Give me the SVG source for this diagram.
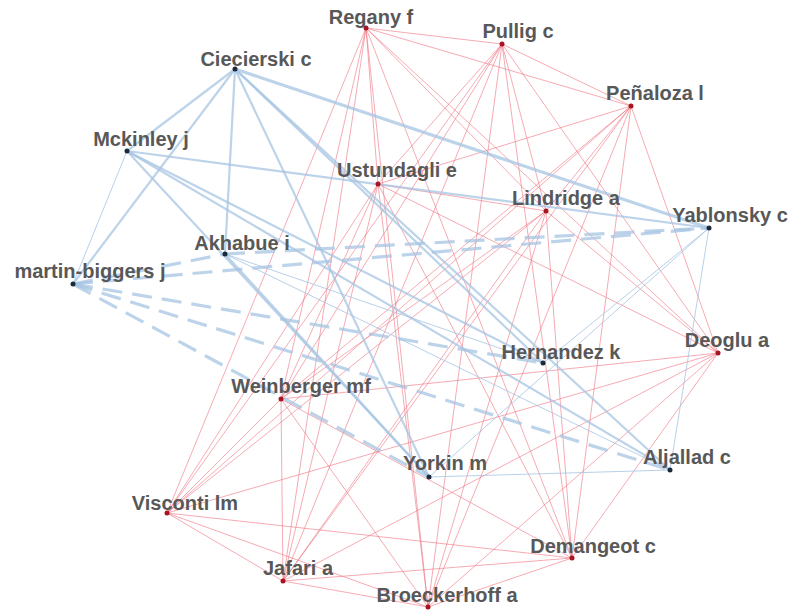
<svg xmlns="http://www.w3.org/2000/svg" width="790" height="610" viewBox="0 0 790 610">
<style>
.r{stroke:#ee7380;stroke-opacity:0.6;stroke-width:1;fill:none}
.bt{stroke:#a6c4e2;stroke-opacity:0.75;stroke-width:3.2;fill:none}
.bm{stroke:#a6c4e2;stroke-opacity:0.75;stroke-width:2.2;fill:none}
.bs{stroke:#a6c4e2;stroke-opacity:0.8;stroke-width:1;fill:none}
.bd{stroke:#a6c4e2;stroke-opacity:0.75;stroke-width:3.2;stroke-dasharray:20 10;fill:none}
.nb{fill:#1c2b3c}
.nr{fill:#a8141f}
text{font-family:"Liberation Sans",Arial,sans-serif;font-weight:bold;font-size:20px;fill:#585858;text-anchor:middle}
</style>
<rect width="790" height="610" fill="#ffffff"/>
<g id="connectors">
<line class="r" x1="366" y1="28" x2="502" y2="44"/>
<line class="r" x1="366" y1="28" x2="631" y2="106"/>
<line class="r" x1="366" y1="28" x2="378" y2="184"/>
<line class="r" x1="366" y1="28" x2="546" y2="211"/>
<line class="r" x1="366" y1="28" x2="718" y2="353"/>
<line class="r" x1="366" y1="28" x2="281" y2="399"/>
<line class="r" x1="366" y1="28" x2="167" y2="513"/>
<line class="r" x1="366" y1="28" x2="572" y2="558"/>
<line class="r" x1="366" y1="28" x2="283" y2="581"/>
<line class="r" x1="366" y1="28" x2="428" y2="607"/>
<line class="r" x1="502" y1="44" x2="631" y2="106"/>
<line class="r" x1="502" y1="44" x2="378" y2="184"/>
<line class="r" x1="502" y1="44" x2="546" y2="211"/>
<line class="r" x1="502" y1="44" x2="718" y2="353"/>
<line class="r" x1="502" y1="44" x2="281" y2="399"/>
<line class="r" x1="502" y1="44" x2="167" y2="513"/>
<line class="r" x1="502" y1="44" x2="572" y2="558"/>
<line class="r" x1="502" y1="44" x2="283" y2="581"/>
<line class="r" x1="502" y1="44" x2="428" y2="607"/>
<line class="r" x1="631" y1="106" x2="378" y2="184"/>
<line class="r" x1="631" y1="106" x2="546" y2="211"/>
<line class="r" x1="631" y1="106" x2="718" y2="353"/>
<line class="r" x1="631" y1="106" x2="281" y2="399"/>
<line class="r" x1="631" y1="106" x2="167" y2="513"/>
<line class="r" x1="631" y1="106" x2="572" y2="558"/>
<line class="r" x1="631" y1="106" x2="283" y2="581"/>
<line class="r" x1="631" y1="106" x2="428" y2="607"/>
<line class="r" x1="378" y1="184" x2="546" y2="211"/>
<line class="r" x1="378" y1="184" x2="718" y2="353"/>
<line class="r" x1="378" y1="184" x2="281" y2="399"/>
<line class="r" x1="378" y1="184" x2="167" y2="513"/>
<line class="r" x1="378" y1="184" x2="572" y2="558"/>
<line class="r" x1="378" y1="184" x2="283" y2="581"/>
<line class="r" x1="378" y1="184" x2="428" y2="607"/>
<line class="r" x1="546" y1="211" x2="718" y2="353"/>
<line class="r" x1="546" y1="211" x2="281" y2="399"/>
<line class="r" x1="546" y1="211" x2="167" y2="513"/>
<line class="r" x1="546" y1="211" x2="572" y2="558"/>
<line class="r" x1="546" y1="211" x2="283" y2="581"/>
<line class="r" x1="546" y1="211" x2="428" y2="607"/>
<line class="r" x1="718" y1="353" x2="281" y2="399"/>
<line class="r" x1="718" y1="353" x2="167" y2="513"/>
<line class="r" x1="718" y1="353" x2="572" y2="558"/>
<line class="r" x1="718" y1="353" x2="283" y2="581"/>
<line class="r" x1="718" y1="353" x2="428" y2="607"/>
<line class="r" x1="281" y1="399" x2="167" y2="513"/>
<line class="r" x1="281" y1="399" x2="572" y2="558"/>
<line class="r" x1="281" y1="399" x2="283" y2="581"/>
<line class="r" x1="281" y1="399" x2="428" y2="607"/>
<line class="r" x1="167" y1="513" x2="572" y2="558"/>
<line class="r" x1="167" y1="513" x2="283" y2="581"/>
<line class="r" x1="167" y1="513" x2="428" y2="607"/>
<line class="r" x1="572" y1="558" x2="283" y2="581"/>
<line class="r" x1="572" y1="558" x2="428" y2="607"/>
<line class="r" x1="283" y1="581" x2="428" y2="607"/>
<line class="bm" x1="235" y1="69" x2="127" y2="151"/>
<line class="bm" x1="235" y1="69" x2="73" y2="284"/>
<line class="bm" x1="235" y1="69" x2="225" y2="254"/>
<line class="bt" x1="235" y1="69" x2="709" y2="228"/>
<line class="bm" x1="235" y1="69" x2="429" y2="477"/>
<line class="bm" x1="235" y1="69" x2="543" y2="363"/>
<line class="bm" x1="235" y1="69" x2="670" y2="470"/>
<line class="bs" x1="127" y1="151" x2="73" y2="284"/>
<line class="bm" x1="127" y1="151" x2="709" y2="228"/>
<line class="bm" x1="127" y1="151" x2="429" y2="477"/>
<line class="bm" x1="127" y1="151" x2="543" y2="363"/>
<line class="bm" x1="127" y1="151" x2="670" y2="470"/>
<line class="bs" x1="225" y1="254" x2="543" y2="363"/>
<line class="bs" x1="225" y1="254" x2="670" y2="470"/>
<line class="bm" x1="225" y1="254" x2="429" y2="477"/>
<line class="bd" x1="225" y1="254" x2="709" y2="228"/>
<line class="bd" x1="73" y1="284" x2="225" y2="254"/>
<line class="bd" x1="73" y1="284" x2="709" y2="228"/>
<line class="bd" x1="73" y1="284" x2="543" y2="363"/>
<line class="bd" x1="73" y1="284" x2="670" y2="470"/>
<line class="bd" x1="73" y1="284" x2="429" y2="477"/>
<line class="bs" x1="543" y1="363" x2="709" y2="228"/>
<line class="bs" x1="429" y1="477" x2="709" y2="228"/>
<line class="bs" x1="429" y1="477" x2="670" y2="470"/>
<line class="bs" x1="670" y1="470" x2="709" y2="228"/>
</g>
<g id="n-regany"><circle class="nr" cx="366" cy="28" r="2.5"/><text x="371" y="24">Regany f</text></g>
<g id="n-pullig"><circle class="nr" cx="502" cy="44" r="2.5"/><text x="518" y="38">Pullig c</text></g>
<g id="n-penaloza"><circle class="nr" cx="631" cy="106" r="2.5"/><text x="655" y="100">Peñaloza l</text></g>
<g id="n-ciecierski"><circle class="nb" cx="235" cy="69" r="2.5"/><text x="256" y="66">Ciecierski c</text></g>
<g id="n-mckinley"><circle class="nb" cx="127" cy="151" r="2.5"/><text x="141" y="146">Mckinley j</text></g>
<g id="n-ustundagli"><circle class="nr" cx="378" cy="184" r="2.5"/><text x="397" y="177">Ustundagli e</text></g>
<g id="n-lindridge"><circle class="nr" cx="546" cy="211" r="2.5"/><text x="566" y="205">Lindridge a</text></g>
<g id="n-yablonsky"><circle class="nb" cx="709" cy="228" r="2.5"/><text x="730" y="222">Yablonsky c</text></g>
<g id="n-akhabue"><circle class="nb" cx="225" cy="254" r="2.5"/><text x="242" y="250">Akhabue i</text></g>
<g id="n-martin-biggers"><circle class="nb" cx="73" cy="284" r="2.5"/><text x="90" y="278">martin-biggers j</text></g>
<g id="n-hernandez"><circle class="nb" cx="543" cy="363" r="2.5"/><text x="561" y="359">Hernandez k</text></g>
<g id="n-deoglu"><circle class="nr" cx="718" cy="353" r="2.5"/><text x="727" y="347">Deoglu a</text></g>
<g id="n-weinberger"><circle class="nr" cx="281" cy="399" r="2.5"/><text x="301" y="393">Weinberger mf</text></g>
<g id="n-yorkin"><circle class="nb" cx="429" cy="477" r="2.5"/><text x="445" y="470">Yorkin m</text></g>
<g id="n-aljallad"><circle class="nb" cx="670" cy="470" r="2.5"/><text x="687" y="464">Aljallad c</text></g>
<g id="n-visconti"><circle class="nr" cx="167" cy="513" r="2.5"/><text x="185" y="510">Visconti lm</text></g>
<g id="n-demangeot"><circle class="nr" cx="572" cy="558" r="2.5"/><text x="593" y="553">Demangeot c</text></g>
<g id="n-jafari"><circle class="nr" cx="283" cy="581" r="2.5"/><text x="298" y="575">Jafari a</text></g>
<g id="n-broeckerhoff"><circle class="nr" cx="428" cy="607" r="2.5"/><text x="447" y="602">Broeckerhoff a</text></g>
</svg>
